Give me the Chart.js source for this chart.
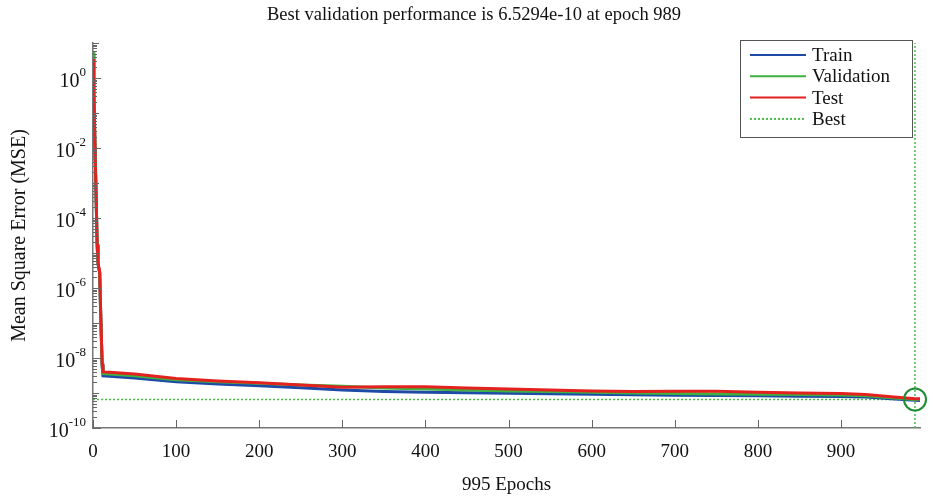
<!DOCTYPE html>
<html>
<head>
<meta charset="utf-8">
<script src="https://cdn.jsdelivr.net/npm/chart.js"></script>
<style>
  html, body { margin: 0; padding: 0; background: #fff; }
  #wrap { width: 933px; height: 499px; }
</style>
</head>
<body>
<div id="wrap"><canvas id="chart" width="933" height="499"></canvas></div>
<script>
const epochs = [0, 1, 2, 3, 4, 5, 6, 7, 8, 9, 10, 11, 12, 20, 50, 100, 150, 200, 250, 300, 350, 400,
  450, 500, 550, 600, 650, 700, 750, 800, 850, 900, 930, 960, 989, 995];

const trainMse = [5, 0.4, 0.03, 2.5e-3, 2e-4, 1.6e-5, 5e-6, 3.5e-6, 2.8e-6, 3e-7, 4e-8, 6e-9, 3.1e-9,
  3.0e-9, 2.7e-9, 2.1e-9, 1.8e-9, 1.6e-9, 1.42e-9, 1.22e-9, 1.1e-9, 1.05e-9,
  1.01e-9, 9.8e-10, 9.5e-10, 9.2e-10, 8.9e-10, 8.6e-10, 8.5e-10, 8.3e-10, 8.1e-10, 7.9e-10, 7.7e-10, 6.9e-10, 6.2e-10, 6.1e-10];

const validationMse = [5.5, 0.42, 0.032, 2.6e-3, 2.1e-4, 1.7e-5, 5.2e-6, 3.6e-6, 2.9e-6, 3.2e-7, 4.2e-8, 6.5e-9, 3.6e-9,
  3.5e-9, 3.1e-9, 2.4e-9, 2.1e-9, 1.9e-9, 1.7e-9, 1.55e-9, 1.4e-9, 1.3e-9,
  1.22e-9, 1.15e-9, 1.1e-9, 1.05e-9, 1.0e-9, 9.6e-10, 9.4e-10, 9.2e-10, 9.0e-10, 8.7e-10, 8.3e-10, 7.3e-10, 6.5294e-10, 6.6e-10];

const testMse = [3.5, 0.35, 0.03, 2.6e-3, 2.2e-4, 1.8e-5, 5.5e-6, 3.8e-6, 3.0e-6, 3.4e-7, 4.5e-8, 7e-9, 4.0e-9,
  3.9e-9, 3.5e-9, 2.6e-9, 2.2e-9, 1.95e-9, 1.7e-9, 1.45e-9, 1.5e-9, 1.5e-9,
  1.4e-9, 1.3e-9, 1.22e-9, 1.15e-9, 1.1e-9, 1.12e-9, 1.12e-9, 1.05e-9, 1.0e-9, 9.6e-10, 9.0e-10, 7.8e-10, 6.9e-10, 6.8e-10];

const bestEpoch = 989;
const bestValue = 6.5294e-10;

const xTicks = [0, 100, 200, 300, 400, 500, 600, 700, 800, 900];
const yLabelExponents = [0, -2, -4, -6, -8, -10];

const titleText = 'Best validation performance is 6.5294e-10 at epoch 989';
const xTitle = '995 Epochs';
const yTitle = 'Mean Square Error (MSE)';

const FONT = "'Liberation Serif', 'DejaVu Serif', serif";
const BLUE = '#1d4aa6';
const GREEN = '#3fb13f';
const RED = '#e3211f';
const BEST = '#45c045';

function series(values) {
  return epochs.map((e, i) => ({ x: e, y: values[i] }));
}

// title, inward tick marks, y labels with exponents, and the boxed legend
const axisDecor = {
  id: 'axisDecor',
  afterDraw(chart) {
    const ctx = chart.ctx;
    const xs = chart.scales.x, ys = chart.scales.y;
    const area = chart.chartArea;
    ctx.save();

    ctx.fillStyle = '#111';
    ctx.font = '18.5px ' + FONT;
    ctx.textAlign = 'center';
    ctx.textBaseline = 'middle';
    ctx.fillText(titleText, 474, 15);

    ctx.strokeStyle = '#666';
    ctx.lineWidth = 1;
    xTicks.forEach(v => {
      const px = Math.round(xs.getPixelForValue(v)) + 0.5;
      ctx.beginPath();
      ctx.moveTo(px, area.bottom);
      ctx.lineTo(px, area.bottom - 8);
      ctx.stroke();
    });
    for (let e = -10; e <= 0; e++) {
      for (let k = 1; k <= 9; k++) {
        const v = k * Math.pow(10, e);
        const py = Math.round(ys.getPixelForValue(v)) + 0.5;
        const len = k === 1 ? (e % 2 === 0 ? 8 : 6) : 4;
        ctx.beginPath();
        ctx.moveTo(area.left, py);
        ctx.lineTo(area.left + len, py);
        ctx.stroke();
      }
    }
    ctx.beginPath();
    const topPy = Math.round(ys.getPixelForValue(10)) + 0.5;
    ctx.moveTo(area.left, topPy);
    ctx.lineTo(area.left + 6, topPy);
    ctx.stroke();

    // y labels 10^n
    ctx.fillStyle = '#111';
    ctx.textBaseline = 'middle';
    yLabelExponents.forEach(e => {
      const py = ys.getPixelForValue(Math.pow(10, e));
      const exp = String(e);
      ctx.font = '13px ' + FONT;
      const ew = ctx.measureText(exp).width;
      ctx.textAlign = 'left';
      const right = area.left - 7;
      ctx.fillText(exp, right - ew, py - 5);
      ctx.font = '20px ' + FONT;
      ctx.textAlign = 'right';
      ctx.fillText('10', right - ew, py + 4);
    });

    // legend
    const boxW = 172, boxH = 97;
    const bx = area.right - 8 - boxW, by = area.top - 3;
    ctx.fillStyle = '#fff';
    ctx.fillRect(bx, by, boxW, boxH);
    ctx.strokeStyle = '#555';
    ctx.lineWidth = 1;
    ctx.strokeRect(bx + 0.5, by + 0.5, boxW, boxH);
    const items = [
      { label: 'Train', color: BLUE, dash: [] },
      { label: 'Validation', color: GREEN, dash: [] },
      { label: 'Test', color: RED, dash: [] },
      { label: 'Best', color: BEST, dash: [2, 2] }
    ];
    ctx.font = '19px ' + FONT;
    ctx.textAlign = 'left';
    items.forEach((it, i) => {
      const ly = by + 15 + i * 21.3;
      ctx.strokeStyle = it.color;
      ctx.lineWidth = 2;
      ctx.setLineDash(it.dash);
      ctx.beginPath();
      ctx.moveTo(bx + 10, ly);
      ctx.lineTo(bx + 66, ly);
      ctx.stroke();
      ctx.setLineDash([]);
      ctx.fillStyle = '#111';
      ctx.fillText(it.label, bx + 72, ly + 1);
    });
    ctx.restore();
  }
};

new Chart(document.getElementById('chart'), {
  type: 'line',
  data: {
    datasets: [
      {
        label: 'Best point',
        data: [{ x: bestEpoch, y: bestValue }],
        showLine: false,
        pointRadius: 11,
        pointBorderWidth: 2,
        pointBorderColor: '#1e8c34',
        pointBackgroundColor: 'rgba(0,0,0,0)',
        clip: false,
        order: 0
      },
      {
        label: 'Test',
        data: series(testMse),
        borderColor: RED,
        borderWidth: 3,
        pointRadius: 0,
        order: 1
      },
      {
        label: 'Validation',
        data: series(validationMse),
        borderColor: GREEN,
        borderWidth: 3,
        pointRadius: 0,
        order: 2
      },
      {
        label: 'Train',
        data: series(trainMse),
        borderColor: BLUE,
        borderWidth: 3,
        pointRadius: 0,
        order: 3
      },
      {
        label: 'Best',
        data: [{ x: 0, y: bestValue }, { x: bestEpoch, y: bestValue }],
        borderColor: BEST,
        borderWidth: 1.5,
        borderDash: [2, 2],
        pointRadius: 0,
        order: 4
      },
      {
        label: 'Best vertical',
        data: [{ x: bestEpoch, y: 1e-10 }, { x: bestEpoch, y: 10 }],
        borderColor: BEST,
        borderWidth: 1.5,
        borderDash: [2, 2],
        pointRadius: 0,
        order: 4
      }
    ]
  },
  options: {
    responsive: false,
    animation: false,
    layout: { padding: { left: 0, right: 12, top: 43, bottom: 0 } },
    plugins: {
      legend: { display: false },
      tooltip: { enabled: false },
      title: { display: false }
    },
    scales: {
      x: {
        type: 'linear',
        min: 0,
        max: 995,
        afterBuildTicks: scale => { scale.ticks = xTicks.map(v => ({ value: v })); },
        afterFit: scale => { scale.height = 71; },
        grid: { display: false, drawTicks: false },
        border: { display: true, color: '#777', width: 1.5 },
        ticks: {
          color: '#111',
          padding: 13,
          maxRotation: 0,
          font: { family: FONT, size: 19 }
        },
        title: {
          display: true,
          text: xTitle,
          color: '#111',
          font: { family: FONT, size: 19 },
          padding: { top: 0, bottom: 3 }
        }
      },
      y: {
        type: 'logarithmic',
        min: 1e-10,
        max: 10,
        afterBuildTicks: scale => {
          scale.ticks = yLabelExponents.map(e => ({ value: Math.pow(10, e) }));
        },
        afterFit: scale => { scale.width = 93; },
        grid: { display: false, drawTicks: false },
        border: { display: true, color: '#777', width: 1.5 },
        ticks: { display: false },
        title: {
          display: true,
          text: yTitle,
          color: '#111',
          font: { family: FONT, size: 20 },
          padding: { top: 8, bottom: 0 }
        }
      }
    }
  },
  plugins: [axisDecor]
});
</script>
</body>
</html>
